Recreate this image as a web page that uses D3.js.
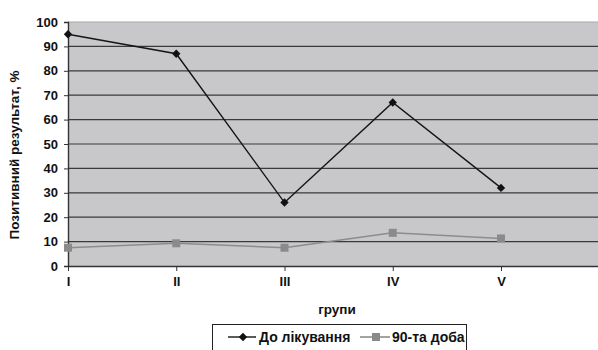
<!DOCTYPE html>
<html>
<head>
<meta charset="utf-8">
<script src="https://cdn.jsdelivr.net/npm/d3@7"></script>
<style>
  body { margin: 0; background: #fff; }
  svg { display: block; font-family: "Liberation Sans", Arial, sans-serif; font-weight: bold; }
</style>
</head>
<body>
<svg width="598" height="350"></svg>
<script>
const groups = ['I', 'II', 'III', 'IV', 'V']
const before_values = [95, 87, 26, 67, 32]
const day90_values = [7.5, 9.3, 7.5, 13.6, 11.3]
const y_ticks = [0, 10, 20, 30, 40, 50, 60, 70, 80, 90, 100]
const series_names = ['До лікування', '90-та доба']

const svg = d3.select('svg')

const plot = { left: 68, top: 22, right: 598, bottom: 266 }

const x_scale = d3.scalePoint()
    .domain(groups)
    .range([plot.left, 501])

const y_scale = d3.scaleLinear()
    .domain([0, 100])
    .range([plot.bottom, plot.top])

// plot background
svg.append('rect')
    .attr('x', plot.left)
    .attr('y', plot.top)
    .attr('width', plot.right - plot.left)
    .attr('height', plot.bottom - plot.top)
    .attr('fill', '#c8c8ca')

// grid lines
svg.append('g').selectAll('line').data(y_ticks.slice(1, -1))
    .enter().append('line')
    .attr('x1', plot.left).attr('x2', plot.right)
    .attr('y1', d => y_scale(d)).attr('y2', d => y_scale(d))
    .attr('stroke', '#3a3a3a')
    .attr('stroke-width', 1.2)

svg.append('line')
    .attr('x1', plot.left).attr('x2', plot.right)
    .attr('y1', plot.top).attr('y2', plot.top)
    .attr('stroke', '#a8a8a8')
    .attr('stroke-width', 1.2)

const style_text = sel => sel
    .attr('font-size', 13)
    .attr('font-weight', 'bold')
    .attr('font-family', '"Liberation Sans", Arial, sans-serif')
    .attr('fill', '#111')

// axes
const y_axis = svg.append('g')
    .attr('transform', `translate(${plot.left},0)`)
    .call(d3.axisLeft(y_scale).tickValues(y_ticks).tickSize(4).tickPadding(6))
y_axis.select('.domain').attr('stroke', '#333').attr('stroke-width', 1.4)
y_axis.selectAll('.tick line').attr('stroke', '#333')
y_axis.selectAll('text').call(style_text)

const x_axis = svg.append('g')
    .attr('transform', `translate(0,${plot.bottom})`)
    .call(d3.axisBottom(x_scale).tickSize(5).tickPadding(6))
x_axis.select('.domain').attr('d', `M${plot.left},0.5H${plot.right}`)
    .attr('stroke', '#333').attr('stroke-width', 1.4)
x_axis.selectAll('.tick line').attr('stroke', '#333')
x_axis.selectAll('text').call(style_text)

// axis titles
svg.append('text')
    .attr('x', 337).attr('y', 314)
    .attr('text-anchor', 'middle')
    .call(style_text)
    .attr('font-size', 13.5)
    .text('групи')

svg.append('text')
    .attr('transform', 'translate(19,155) rotate(-90)')
    .attr('text-anchor', 'middle')
    .call(style_text)
    .attr('font-size', 13.5)
    .text('Позитивний результат, %')

// lines
const line = d3.line()
    .x((d, i) => x_scale(groups[i]))
    .y(d => y_scale(d))

svg.append('path')
    .datum(day90_values)
    .attr('d', line)
    .attr('fill', 'none')
    .attr('stroke', '#8c8c8c')
    .attr('stroke-width', 1.6)

svg.append('g').selectAll('rect').data(day90_values)
    .enter().append('rect')
    .attr('x', (d, i) => x_scale(groups[i]) - 4)
    .attr('y', d => y_scale(d) - 4)
    .attr('width', 8).attr('height', 8)
    .attr('fill', '#8a8a8a')

svg.append('path')
    .datum(before_values)
    .attr('d', line)
    .attr('fill', 'none')
    .attr('stroke', '#151515')
    .attr('stroke-width', 1.4)

const diamond = 'M0,-4.2L4.2,0L0,4.2L-4.2,0Z'
svg.append('g').selectAll('path').data(before_values)
    .enter().append('path')
    .attr('d', diamond)
    .attr('transform', (d, i) => `translate(${x_scale(groups[i])},${y_scale(d)})`)
    .attr('fill', '#111')

// legend
const legend = svg.append('g')
legend.append('rect')
    .attr('x', 212.5).attr('y', 324.5)
    .attr('width', 254).attr('height', 40)
    .attr('fill', '#fff')
    .attr('stroke', '#222')
    .attr('stroke-width', 1)

legend.append('line')
    .attr('x1', 228).attr('x2', 256).attr('y1', 337).attr('y2', 337)
    .attr('stroke', '#151515').attr('stroke-width', 1.4)
legend.append('path')
    .attr('d', diamond)
    .attr('transform', 'translate(243,337)')
    .attr('fill', '#111')
legend.append('text')
    .attr('x', 259).attr('y', 342)
    .call(style_text)
    .attr('font-size', 14)
    .text(series_names[0])

legend.append('line')
    .attr('x1', 360).attr('x2', 390).attr('y1', 337).attr('y2', 337)
    .attr('stroke', '#8c8c8c').attr('stroke-width', 1.6)
legend.append('rect')
    .attr('x', 372).attr('y', 333).attr('width', 8).attr('height', 8)
    .attr('fill', '#8a8a8a')
legend.append('text')
    .attr('x', 392).attr('y', 342)
    .call(style_text)
    .attr('font-size', 14)
    .text(series_names[1])
</script>
</body>
</html>
